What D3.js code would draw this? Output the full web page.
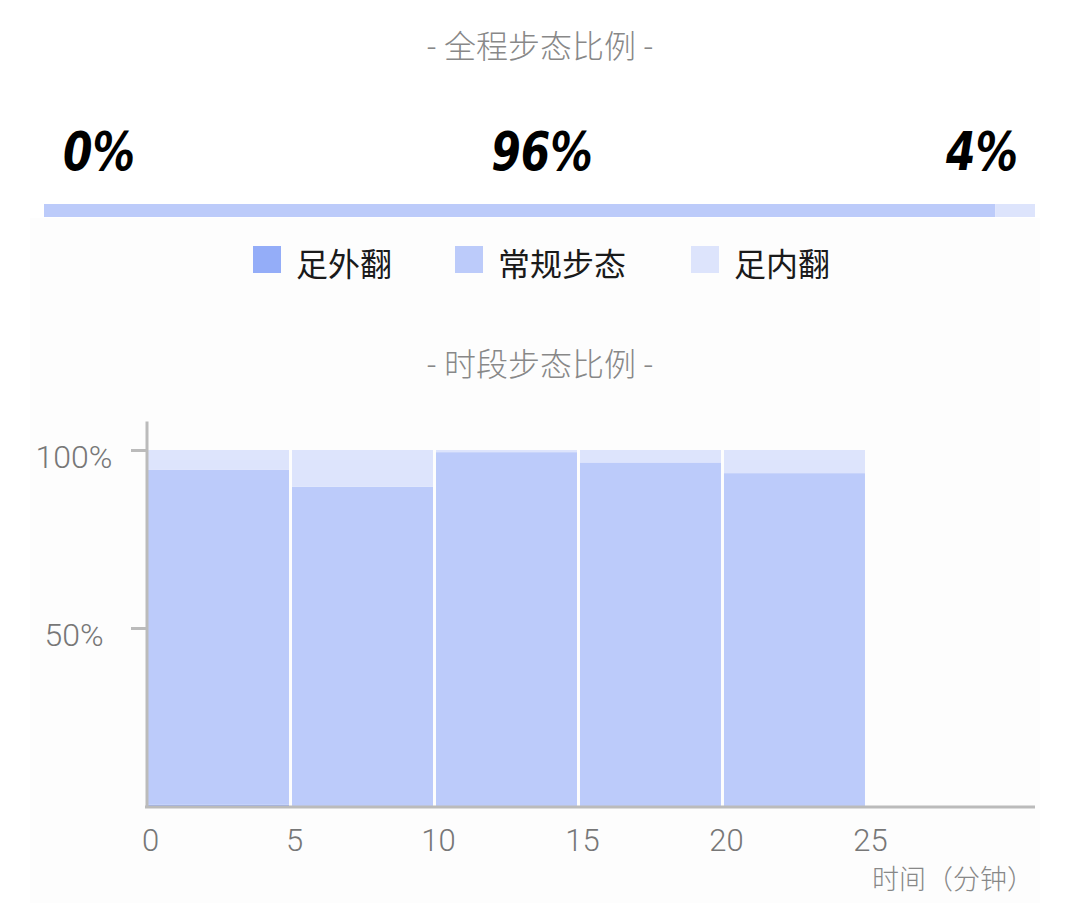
<!DOCTYPE html>
<html>
<head>
<meta charset="utf-8">
<script src="https://cdn.jsdelivr.net/npm/d3@7"></script>
<style>
  body { margin: 0; background: #ffffff; }
  text { font-family: Roboto, "Noto Sans CJK SC", sans-serif; }
</style>
</head>
<body>
<div id="chart"></div>
<script>
// overall gait share (%)
var gaitNames = ["足外翻", "常规步态", "足内翻"];
var gaitColors = ["#94adf8", "#bccbfa", "#dde4fc"];
var overallShare = [0, 96, 4];

// per 5 minute segment share (%)
var segmentStart = [0, 5, 10, 15, 20];
var outwardShare = [0.4, 0, 0, 0, 0];
var normalShare = [94.1, 89.7, 99.4, 96.5, 93.5];
var inwardShare = [5.5, 10.3, 0.6, 3.5, 6.5];
var xTicks = [0, 5, 10, 15, 20, 25];
var yTicks = [50, 100];

var width = 1080, height = 903;
var svg = d3.select("#chart").append("svg").attr("width", width).attr("height", height);

// faint panel behind the charts
svg.append("rect")
    .attr("x", 30).attr("y", 218)
    .attr("width", 1010).attr("height", 685)
    .style("fill", "#fdfdfd");

// titles
svg.append("text")
    .attr("x", 540).attr("y", 58)
    .attr("text-anchor", "middle")
    .style("font-size", "32px")
    .style("font-weight", 300)
    .style("fill", "#888")
    .text("- 全程步态比例 -");
svg.append("text")
    .attr("x", 540).attr("y", 376)
    .attr("text-anchor", "middle")
    .style("font-size", "32px")
    .style("font-weight", 300)
    .style("fill", "#888")
    .text("- 时段步态比例 -");

// ---- overall bar ----
var barScale = d3.scaleLinear().domain([0, 100]).range([44, 1035]);
var cum = 0;
var overall = overallShare.map(function (v, i) {
    var d = { name: gaitNames[i], v: v, x0: cum, x1: cum + v, color: gaitColors[i] };
    cum += v;
    return d;
});
svg.append("g").selectAll("rect")
    .data(overall)
    .enter()
    .append("rect")
    .attr("x", function (d) { return barScale(d.x0); })
    .attr("y", 204)
    .attr("width", function (d) { return barScale(d.x1) - barScale(d.x0); })
    .attr("height", 13)
    .style("fill", function (d) { return d.color; });

// big percentages: left, middle, right (squeezed to look condensed)
var anchors = ["start", "middle", "end"];
var labelX = [63, 542, 1018];
svg.append("g").selectAll("text")
    .data(overall)
    .enter()
    .append("text")
    .attr("transform", function (d, i) { return "translate(" + labelX[i] + ",170)scale(0.8,1)"; })
    .attr("text-anchor", function (d, i) { return anchors[i]; })
    .style("font-family", "'DejaVu Sans', sans-serif")
    .style("font-weight", "bold")
    .style("font-style", "italic")
    .style("font-size", "53px")
    .style("fill", "#000")
    .text(function (d) { return d.v + "%"; });

// legend
var legendX = [253, 455, 691];
var legend = svg.append("g").selectAll("g")
    .data(gaitNames)
    .enter()
    .append("g")
    .attr("transform", function (d, i) { return "translate(" + legendX[i] + ",246)"; });
legend.append("rect")
    .attr("width", 28).attr("height", 27)
    .style("fill", function (d, i) { return gaitColors[i]; });
legend.append("text")
    .attr("x", 43).attr("y", 30)
    .style("font-size", "32px")
    .style("fill", "#1a1a1a")
    .text(function (d) { return d; });

// ---- segment chart ----
var x_scale = d3.scaleLinear().domain([0, 30.8]).range([148, 1035]);
var y_scale = d3.scaleLinear().domain([0, 100]).range([806, 450]);

var segments = segmentStart.map(function (s, i) {
    var parts = [outwardShare[i], normalShare[i], inwardShare[i]];
    var c = 0;
    return parts.map(function (v, k) {
        var p = { start: s, y0: c, y1: c + v, color: gaitColors[k] };
        c += v;
        return p;
    });
});

var bars = svg.append("g");
segments.forEach(function (seg) {
    bars.selectAll(null)
        .data(seg.filter(function (p) { return p.y1 > p.y0; }))
        .enter()
        .append("rect")
        .attr("x", function (p) { return x_scale(p.start); })
        .attr("y", function (p) { return y_scale(p.y1); })
        .attr("width", function (p) { return x_scale(p.start + 5) - x_scale(p.start) - 3; })
        .attr("height", function (p) { return y_scale(p.y0) - y_scale(p.y1); })
        .style("fill", function (p) { return p.color; });
});

// axes
var y_axis = d3.axisLeft(y_scale).tickValues(yTicks).tickSize(16)
    .tickFormat(function (d) { return d + "%"; });
var gy = svg.append("g").attr("transform", "translate(147,0)").call(y_axis);
gy.select(".domain").remove();
gy.selectAll(".tick line").style("stroke", "#bbb").style("stroke-width", 3);
gy.selectAll(".tick text")
    .attr("x", -73).attr("y", 17).attr("dy", null)
    .attr("text-anchor", "middle")
    .style("font-size", "32px").style("font-weight", 300).style("fill", "#777");
svg.append("line")
    .attr("x1", 147).attr("x2", 147)
    .attr("y1", y_scale(108)).attr("y2", 808)
    .style("stroke", "#bbb").style("stroke-width", 3);

var x_axis = d3.axisBottom(x_scale).tickValues(xTicks).tickSize(0).tickPadding(22);
var gx = svg.append("g").attr("transform", "translate(0,807)").call(x_axis);
gx.select(".domain").remove();
gx.selectAll(".tick text")
    .attr("dx", 2)
    .style("font-size", "31px").style("font-weight", 300).style("fill", "#777");
svg.append("line")
    .attr("x1", 145).attr("x2", 1035)
    .attr("y1", 807).attr("y2", 807)
    .style("stroke", "#bbb").style("stroke-width", 3);

// x axis title
svg.append("text")
    .attr("x", 1034).attr("y", 889)
    .attr("text-anchor", "end")
    .style("font-size", "27px")
    .style("font-weight", 300)
    .style("fill", "#888")
    .text("时间（分钟）");
</script>
</body>
</html>
